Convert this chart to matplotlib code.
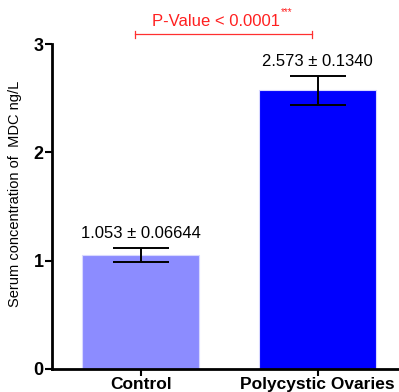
import matplotlib.pyplot as plt
import numpy as np

plt.rcParams['font.family'] = ['Liberation Sans', 'DejaVu Sans']

groups = ['Control', 'Polycystic Ovaries']
means = [1.053, 2.573]
sems = [0.06644, 0.1340]
labels = ['1.053 ± 0.06644', '2.573 ± 0.1340']
colors = ['#8c8cff', '#0000ff']

fig = plt.figure(figsize=(3.99, 3.92), dpi=100)
ax = fig.add_axes([0.130, 0.0587, 0.87, 0.829])

x = np.arange(len(groups))
ax.bar(x, means, width=0.66, color=colors, edgecolor='#d8d8ff', linewidth=0.8, zorder=2)
ax.errorbar(x, means, yerr=sems, fmt='none', ecolor='black', elinewidth=1.4,
            capsize=20.5, capthick=1.4, zorder=3)

for xi, m, s, lab in zip(x, means, sems, labels):
    ax.text(xi, m + s + 0.06, lab, ha='center', va='bottom', fontsize=12)

ax.set_xlim(-0.503, 1.46)
ax.set_ylim(0, 3)
ax.set_yticks([0, 1, 2, 3])
ax.set_xticks(x)
ax.set_xticklabels(groups, fontsize=12.5, fontweight='bold')
ax.set_yticklabels(['0', '1', '2', '3'], fontsize=13, fontweight='bold')
ax.tick_params(axis='both', direction='out', length=5, width=1.5, pad=1)

ax.spines['top'].set_visible(False)
ax.spines['right'].set_visible(False)
ax.spines['left'].set_linewidth(2)
ax.spines['bottom'].set_linewidth(2)

ax.set_ylabel('Serum concentration of  MDC ng/L', fontsize=10.5)
ax.yaxis.set_label_coords(-0.085, 0.538)

# significance bracket
yb = 3.09
ax.plot([-0.034, 0.967], [yb, yb], color='#ff3030', linewidth=0.9, clip_on=False)
for xe in [-0.034, 0.967]:
    ax.plot([xe, xe], [yb - 0.03, yb + 0.03], color='#ff3030', linewidth=0.9, clip_on=False)
ax.text(0.425, yb + 0.05, 'P-Value < 0.0001', color='#ff2020', fontsize=12,
        ha='center', va='bottom')
ax.text(0.79, yb + 0.16, '***', color='#ff2020', fontsize=7,
        ha='left', va='bottom')

fig.savefig('out.png', dpi=100)
